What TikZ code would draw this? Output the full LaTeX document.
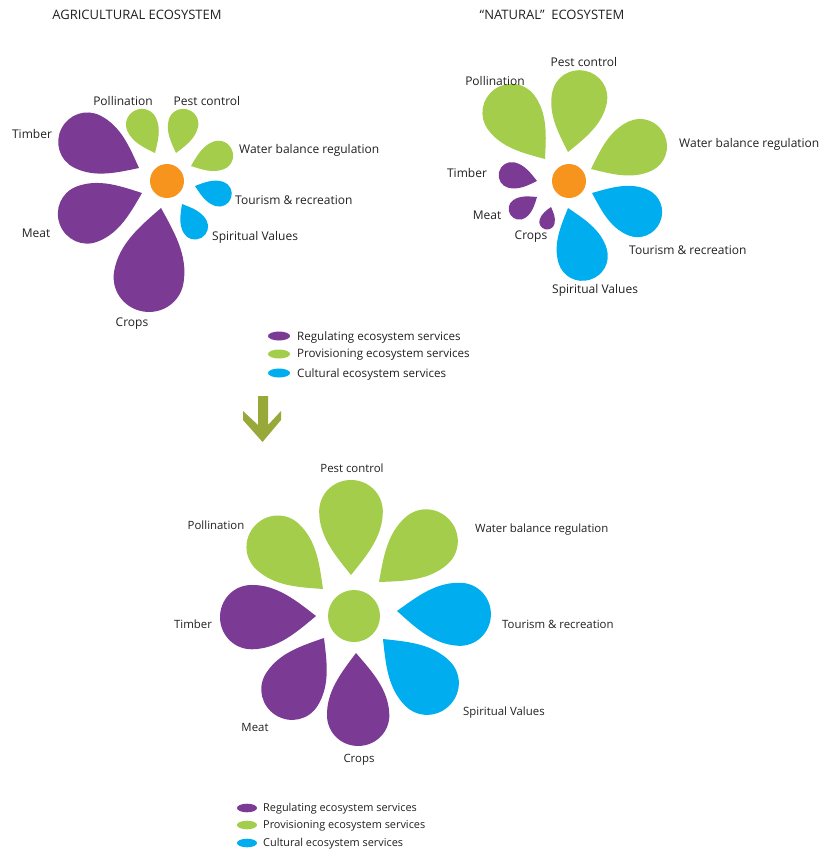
\documentclass[tikz,border=0pt]{standalone}
\usepackage{fontspec}
\setmainfont{Open Sans}
\usetikzlibrary{shapes.geometric}
\definecolor{purp}{HTML}{7B3A94}
\definecolor{leaf}{HTML}{A3CD4A}
\definecolor{sky}{HTML}{00ADEF}
\definecolor{core}{HTML}{F7941E}
\definecolor{olivearrow}{HTML}{98A93A}
\definecolor{txt}{HTML}{231F20}
% tip x, tip y, direction angle (clockwise, image coords), length, colour
\newcommand\drawpetal[5]{\fill[#5, shift={(#1,#2)}, rotate=-#3, scale=#4]
  (0,0) .. controls (0.2,0.16) and (0.4,0.335) .. (0.67,0.335)
  .. controls (0.855,0.335) and (1,0.185) .. (1,0)
  .. controls (1,-0.185) and (0.855,-0.335) .. (0.67,-0.335)
  .. controls (0.4,-0.335) and (0.2,-0.16) .. (0,0) -- cycle;}
\begin{document}
\begin{tikzpicture}[x=1pt,y=-1pt,
  laba/.style={font=\fontsize{12}{14}\selectfont, text=txt, inner sep=0},
  labb/.style={font=\fontsize{11.4}{13}\selectfont, text=txt, inner sep=0},
  title/.style={font=\fontsize{13}{15}\selectfont, text=txt, inner sep=0},
  lega/.style={font=\fontsize{11.6}{13}\selectfont, text=txt, inner sep=0, anchor=west},
  legb/.style={font=\fontsize{10.9}{12}\selectfont, text=txt, inner sep=0, anchor=west},
  dot/.style={ellipse, inner sep=0, draw=none},
  hub/.style={circle, inner sep=0, draw=none}]
\useasboundingbox (0,0) rectangle (823,849);

% titles
\node[title] (t1) at (137,15) {AGRICULTURAL ECOSYSTEM};
\node[title] (t2) at (552,15) {“NATURAL”\ \ ECOSYSTEM};

% ---------- agricultural flower
\drawpetal{139}{168}{207}{87}{purp}
\drawpetal{142}{193}{159}{88}{purp}
\drawpetal{161}{208}{100}{105}{purp}
\drawpetal{155}{153}{245}{47}{leaf}
\drawpetal{176}{153}{284}{45}{leaf}
\drawpetal{191}{166}{339}{44}{leaf}
\drawpetal{195}{186}{18}{38}{sky}
\drawpetal{182}{204}{60}{39}{sky}
\node[hub, fill=core, minimum size=34] (c1) at (167,181) {};
\node[laba] (a1) at (123,101) {Pollination};
\node[laba] (a2) at (207,101) {Pest control};
\node[laba] (a3) at (32,134) {Timber};
\node[laba, anchor=west] (a4) at (239,150) {Water balance regulation};
\node[laba, anchor=west] (a5) at (235,200) {Tourism \& recreation};
\node[laba, anchor=west] (a6) at (212,237) {Spiritual Values};
\node[laba] (a7) at (36,233) {Meat};
\node[laba] (a8) at (132,324) {Crops};

% ---------- natural flower
\drawpetal{545}{159}{234}{86}{leaf}
\drawpetal{568}{152}{282}{83}{leaf}
\drawpetal{591}{169}{335}{81}{leaf}
\drawpetal{592}{193}{23}{74}{sky}
\drawpetal{568}{208}{73}{75}{sky}
\drawpetal{537}{181}{193}{39}{purp}
\drawpetal{537}{197}{146}{32}{purp}
\drawpetal{551}{207}{105}{23}{purp}
\node[hub, fill=core, minimum size=34] (c2) at (569,181) {};
\node[laba] (n1) at (584,62) {Pest control};
\node[laba] (n2) at (495,81) {Pollination};
\node[laba, anchor=west] (n3) at (679,144) {Water balance regulation};
\node[laba] (n4) at (467,173) {Timber};
\node[laba] (n5) at (487,215) {Meat};
\node[laba] (n6) at (531,237) {Crops};
\node[laba, anchor=west] (n7) at (629,250) {Tourism \& recreation};
\node[laba, anchor=west] (n8) at (552,290) {Spiritual Values};

% ---------- legend 1
\node[dot, fill=purp, minimum width=22, minimum height=9] (la1) at (279,336) {};
\node[dot, fill=leaf, minimum width=22, minimum height=9] (la2) at (279,354) {};
\node[dot, fill=sky, minimum width=22, minimum height=9] (la3) at (279,373) {};
\node[lega] (lt1) at (297,337) {Regulating ecosystem services};
\node[lega] (lt2) at (297,355) {Provisioning ecosystem services};
\node[lega] (lt3) at (297,374) {Cultural ecosystem services};

% ---------- arrow
\fill[olivearrow] (258,396) -- (268,396) -- (268,425) -- (281,411) -- (281,420)
  -- (262.5,442) -- (243,420) -- (243,411) -- (258,425) -- cycle;

% ---------- combined flower
\drawpetal{351}{575}{270}{95}{leaf}
\drawpetal{323}{589}{223}{93}{leaf}
\drawpetal{379}{582}{319}{94}{leaf}
\drawpetal{397}{611}{3}{94}{sky}
\drawpetal{383}{639}{45}{94}{sky}
\drawpetal{356}{653}{88}{93}{purp}
\drawpetal{324}{638}{122}{91}{purp}
\drawpetal{316}{616}{179}{96}{purp}
\node[hub, fill=leaf, minimum size=52] (c3) at (354,616) {};
\node[labb] (b1) at (352,468) {Pest control};
\node[labb] (b2) at (216,525) {Pollination};
\node[labb, anchor=west] (b3) at (475,530) {Water balance regulation};
\node[labb] (b4) at (193,624) {Timber};
\node[labb, anchor=west] (b5) at (502,624) {Tourism \& recreation};
\node[labb, anchor=west] (b6) at (463,713) {Spiritual Values};
\node[labb] (b7) at (255,727) {Meat};
\node[labb] (b8) at (359,760) {Crops};

% ---------- legend 2
\node[dot, fill=purp, minimum width=20, minimum height=8.6] (lb1) at (247,808) {};
\node[dot, fill=leaf, minimum width=20, minimum height=8.6] (lb2) at (247,825) {};
\node[dot, fill=sky, minimum width=20, minimum height=8.6] (lb3) at (247,843) {};
\node[legb] (ls1) at (263,809) {Regulating ecosystem services};
\node[legb] (ls2) at (263,826) {Provisioning ecosystem services};
\node[legb] (ls3) at (263,844) {Cultural ecosystem services};
\end{tikzpicture}
\end{document}
